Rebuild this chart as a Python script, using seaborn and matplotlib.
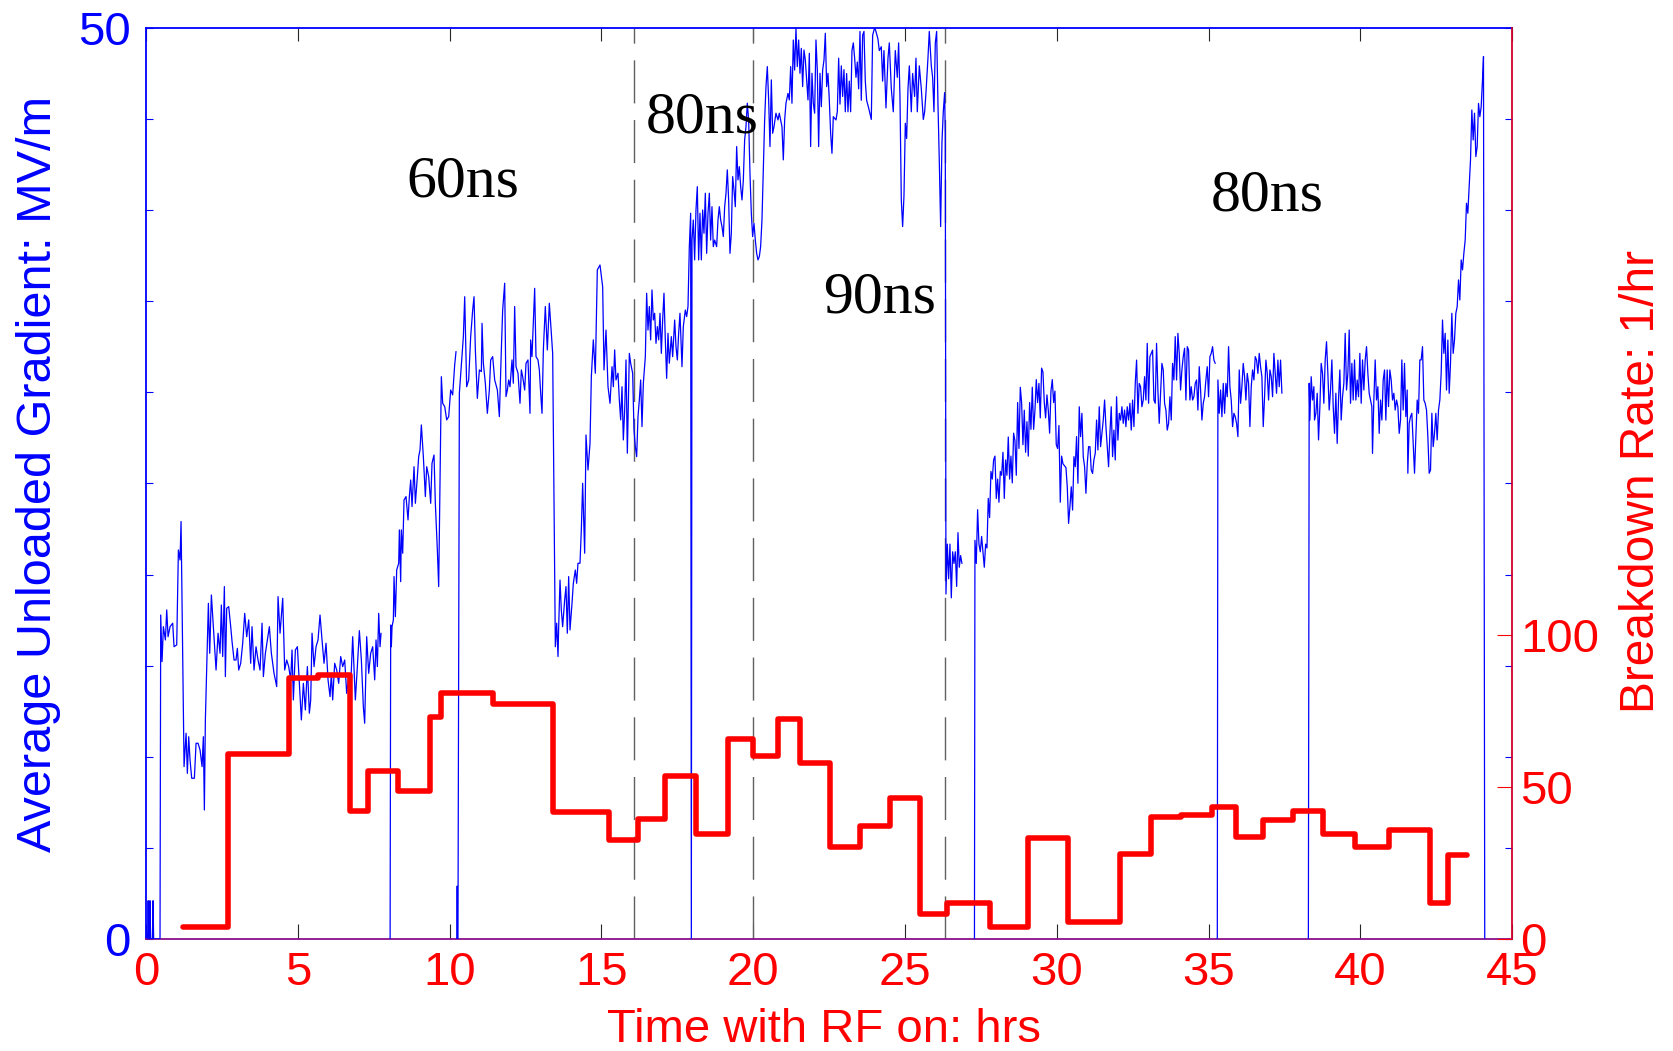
import matplotlib
matplotlib.use("Agg")
import matplotlib.pyplot as plt
import numpy as np
import pandas as pd
import seaborn as sns

sns.set_style("white")
plt.rcParams["font.family"] = ["Liberation Sans", "DejaVu Sans"]

# ---------------- data: average unloaded gradient (MV/m) vs time (hrs) ----------------
# each list is a continuous run of samples; gaps between lists are missing data
grad_run1 = [
    (0.05, 0), (0.07, 2.1), (0.09, 0), (0.11, 0), (0.13, 2.1), (0.15, 0), (0.21, 0), (0.23, 2.1), (0.25, 0), (0.46, 0),
    (0.483, 17.78), (0.527, 15.22), (0.571, 17.14), (0.637, 16.41), (0.681, 18.06), (0.725, 16.59), (0.791, 17.14),
    (0.878, 17.33), (0.922, 16.04), (1.010, 16.14), (1.065, 21.35), (1.120, 20.80), (1.153, 22.91), (1.208, 15.68),
    (1.252, 9.46), (1.318, 11.29), (1.361, 9.09), (1.405, 11.10), (1.449, 9.82), (1.504, 8.82), (1.592, 8.82),
    (1.647, 10.74), (1.713, 10.74), (1.779, 10.37), (1.845, 9.46), (1.888, 11.10), (1.921, 7.08), (1.954, 12.02),
    (2.009, 15.68), (2.053, 18.42), (2.097, 15.68), (2.152, 18.88), (2.218, 17.14), (2.306, 14.76), (2.372, 16.78),
    (2.437, 15.68), (2.481, 18.33), (2.525, 15.50), (2.580, 19.34), (2.613, 14.40), (2.657, 18.15), (2.723, 18.24),
    (2.789, 17.14), (2.833, 16.32), (2.899, 15.31), (2.964, 15.31), (3.008, 15.95), (3.052, 14.76), (3.118, 15.13),
    (3.184, 16.23), (3.250, 17.87), (3.316, 16.59), (3.382, 17.51), (3.447, 15.13), (3.491, 17.14), (3.557, 14.76),
    (3.623, 16.04), (3.689, 15.31), (3.755, 14.76), (3.821, 17.33), (3.865, 14.40), (3.931, 15.68), (3.996, 16.41),
    (4.062, 17.14), (4.128, 15.68), (4.216, 14.58), (4.304, 13.85), (4.348, 18.79), (4.414, 16.78), (4.502, 18.70),
    (4.567, 14.76), (4.633, 15.31), (4.699, 14.95), (4.765, 14.22), (4.809, 15.86), (4.853, 13.12), (4.919, 15.86),
    (4.985, 16.04), (5.050, 14.03), (5.116, 12.02), (5.182, 14.03), (5.248, 12.57), (5.314, 14.95), (5.380, 12.39),
    (5.424, 13.12), (5.468, 16.78), (5.534, 14.95), (5.600, 16.04), (5.665, 16.41), (5.731, 17.78), (5.797, 16.41),
    (5.863, 15.13), (5.929, 16.23), (5.995, 14.22), (6.061, 13.30), (6.104, 14.58), (6.148, 13.12), (6.214, 15.13),
    (6.280, 14.76), (6.346, 14.03), (6.412, 15.50), (6.478, 14.95), (6.544, 15.31), (6.609, 13.48), (6.675, 14.40),
    (6.741, 13.85), (6.807, 16.59), (6.895, 13.12), (6.961, 14.95), (7.027, 16.92), (7.093, 15.31), (7.158, 12.75),
    (7.202, 11.84), (7.268, 16.59), (7.334, 14.58), (7.400, 15.68), (7.466, 16.04), (7.532, 14.22), (7.576, 16.41),
    (7.620, 14.95), (7.664, 17.87), (7.708, 16.04), (7.741, 16.78),
]
grad_run2 = [
    (8.04, 0), (8.059, 17.23), (8.081, 16.04), (8.103, 17.14), (8.147, 17.51), (8.169, 19.89), (8.213, 17.69),
    (8.257, 20.25), (8.323, 20.62), (8.345, 22.45), (8.388, 19.61), (8.410, 22.45), (8.454, 21.17), (8.498, 24.09),
    (8.564, 24.28), (8.630, 23.00), (8.674, 24.28), (8.718, 25.19), (8.762, 23.73), (8.828, 25.92), (8.872, 23.91),
    (8.937, 25.37), (8.981, 26.47), (9.025, 26.84), (9.069, 28.21), (9.135, 26.47), (9.201, 24.28), (9.245, 25.92),
    (9.311, 25.37), (9.377, 23.91), (9.420, 26.11), (9.486, 26.56), (9.530, 23.91), (9.596, 21.35), (9.640, 19.34),
    (9.728, 30.86), (9.772, 29.40), (9.838, 29.22), (9.904, 28.49), (9.970, 28.67), (10.035, 30.13), (10.101, 29.86),
    (10.167, 31.50), (10.211, 32.24),
]
grad_run3 = [
    (10.245, 0), (10.25, 2.9), (10.255, 0), (10.275, 0), (10.321, 29.95), (10.387, 31.50), (10.453, 33.06),
    (10.497, 35.25), (10.562, 30.31), (10.628, 30.68), (10.694, 33.06), (10.760, 34.52), (10.804, 35.25),
    (10.848, 32.33), (10.914, 29.67), (10.980, 31.23), (11.046, 31.14), (11.068, 33.79), (11.111, 31.60),
    (11.177, 30.50), (11.243, 28.85), (11.309, 30.13), (11.353, 31.78), (11.419, 31.96), (11.485, 30.68),
    (11.573, 30.13), (11.639, 28.67), (11.704, 32.33), (11.748, 34.52), (11.814, 35.99), (11.858, 29.77),
    (11.902, 30.13), (11.946, 30.68), (11.990, 30.31), (12.056, 31.78), (12.099, 30.50), (12.143, 34.71),
    (12.187, 31.41), (12.253, 31.05), (12.319, 29.40), (12.363, 31.23), (12.407, 30.86), (12.473, 30.13),
    (12.517, 31.60), (12.582, 31.78), (12.648, 28.85), (12.670, 32.88), (12.714, 31.96), (12.758, 33.79),
    (12.802, 35.71), (12.846, 31.96), (12.912, 31.78), (12.956, 31.23), (13.000, 29.95), (13.044, 28.85),
    (13.088, 32.33), (13.153, 34.71), (13.219, 32.33), (13.285, 34.89), (13.351, 33.24), (13.395, 32.14),
    (13.483, 16.04), (13.527, 17.33), (13.571, 15.50), (13.593, 17.14), (13.637, 19.70), (13.680, 18.06),
    (13.724, 17.14), (13.790, 18.61), (13.834, 19.34), (13.878, 16.78), (13.922, 19.89), (13.966, 16.96),
    (14.032, 18.42), (14.076, 19.52), (14.141, 20.25), (14.185, 19.52), (14.229, 20.62), (14.295, 20.62),
    (14.339, 22.45), (14.383, 25.01), (14.449, 21.17), (14.493, 27.66), (14.559, 25.74), (14.625, 27.20),
    (14.669, 30.86), (14.734, 32.88), (14.800, 31.05), (14.866, 36.72), (14.954, 36.99), (15.042, 35.80),
    (15.086, 31.23), (15.152, 33.42),
    (15.218, 30.31), (15.284, 29.40), (15.350, 31.41), (15.394, 30.31), (15.437, 32.33), (15.481, 30.68),
    (15.547, 31.05), (15.591, 29.58), (15.635, 28.49), (15.679, 30.31), (15.723, 27.39), (15.767, 29.03),
    (15.811, 31.78), (15.855, 26.66), (15.921, 32.14), (15.964, 31.60), (16.030, 31.05), (16.074, 27.94),
    (16.118, 27.02), (16.162, 26.47), (16.206, 28.67), (16.250, 29.58), (16.294, 30.68), (16.338, 28.12),
    (16.382, 30.50), (16.448, 31.96), (16.491, 35.44), (16.535, 33.42), (16.579, 34.71), (16.623, 32.88),
    (16.667, 35.62), (16.711, 33.97), (16.755, 34.34), (16.799, 32.69), (16.843, 33.61), (16.887, 32.88),
    (16.931, 34.34), (16.975, 32.14), (17.018, 33.97), (17.062, 35.44), (17.106, 32.88), (17.150, 30.77),
    (17.194, 33.24), (17.238, 31.60), (17.304, 33.06), (17.348, 31.96), (17.414, 33.97), (17.458, 32.51),
    (17.502, 31.78), (17.545, 33.24), (17.589, 34.34), (17.655, 31.41), (17.699, 33.61), (17.765, 34.52),
    (17.809, 34.16), (17.853, 34.71), (17.897, 38.00), (17.941, 39.83), (17.963, 0), (17.985, 38.36),
    (18.028, 39.46), (18.072, 37.27), (18.116, 40.01), (18.160, 41.29), (18.204, 37.27), (18.248, 39.83),
    (18.292, 37.27), (18.336, 40.01), (18.380, 38.73), (18.424, 40.93), (18.468, 37.63), (18.512, 39.83),
    (18.556, 40.93), (18.599, 38.36), (18.643, 40.19), (18.687, 38.00), (18.731, 38.36), (18.797, 38.00),
    (18.841, 39.46), (18.885, 40.19), (18.929, 39.46), (18.973, 39.10), (19.017, 38.55), (19.061, 40.19),
    (19.105, 40.93), (19.148, 42.21), (19.192, 40.56), (19.236, 37.63), (19.280, 38.73), (19.324, 41.84),
    (19.368, 41.11), (19.412, 40.19), (19.456, 43.49), (19.500, 41.66), (19.544, 42.39), (19.588, 41.29),
    (19.632, 40.56), (19.676, 41.66), (19.719, 43.85), (19.763, 44.58), (19.807, 45.87), (19.851, 44.95),
    (19.895, 42.02), (19.939, 39.83), (19.983, 38.55), (20.027, 39.28), (20.071, 38.36), (20.115, 37.63),
    (20.159, 37.27), (20.203, 37.45), (20.246, 38.00), (20.290, 39.46), (20.334, 42.21), (20.378, 44.95),
    (20.422, 46.78), (20.466, 47.88), (20.510, 46.05), (20.554, 43.49), (20.598, 47.15), (20.642, 44.22),
    (20.686, 44.58), (20.751, 45.32), (20.817, 44.95), (20.861, 45.32), (20.905, 44.95), (20.949, 44.58),
    (20.993, 42.76), (21.037, 44.95), (21.081, 45.87), (21.147, 46.41), (21.191, 46.05), (21.235, 47.88),
    (21.278, 45.87), (21.322, 49.34), (21.366, 47.69), (21.410, 49.98), (21.454, 47.88), (21.498, 49.34),
    (21.542, 47.51), (21.586, 48.88), (21.630, 46.78), (21.674, 48.79), (21.718, 48.24), (21.762, 47.15),
    (21.806, 46.05), (21.850, 48.61), (21.893, 43.49), (21.937, 47.51), (21.981, 45.87), (22.025, 45.32),
    (22.069, 49.34), (22.113, 47.69), (22.157, 43.49), (22.201, 47.51), (22.245, 45.68), (22.289, 47.69),
    (22.333, 48.24), (22.377, 49.71), (22.421, 46.78), (22.464, 47.51), (22.508, 46.05), (22.552, 44.22),
    (22.596, 43.12), (22.640, 45.13), (22.728, 44.95),
    (22.772, 45.40), (22.816, 48.34), (22.860, 45.82), (22.904, 47.92), (22.948, 46.24), (22.991, 47.71),
    (23.035, 45.40), (23.079, 47.50), (23.123, 45.40), (23.167, 47.08), (23.211, 45.40), (23.255, 48.76),
    (23.299, 49.18), (23.343, 48.34), (23.387, 47.29), (23.431, 48.13), (23.475, 46.66), (23.519, 49.81),
    (23.562, 46.03), (23.606, 49.60), (23.650, 49.81), (23.694, 47.08), (23.738, 46.03), (23.804, 45.61),
    (23.892, 44.98), (23.936, 49.60), (24.002, 50.02), (24.045, 49.81), (24.111, 49.39), (24.155, 48.76),
    (24.221, 48.97), (24.265, 47.08), (24.309, 48.76), (24.375, 45.61), (24.441, 48.34), (24.485, 49.18),
    (24.551, 46.66), (24.616, 45.40), (24.682, 48.76), (24.748, 47.29), (24.792, 49.18), (24.836, 46.24),
    (24.880, 40.57), (24.924, 39.10), (24.968, 40.78), (25.012, 44.77), (25.056, 43.93), (25.100, 46.66),
    (25.144, 47.92), (25.209, 45.40), (25.253, 47.50), (25.319, 46.24), (25.363, 48.34), (25.407, 45.40),
    (25.473, 47.92), (25.539, 46.66), (25.605, 44.98), (25.649, 45.40), (25.693, 46.45), (25.758, 48.34),
    (25.802, 49.81), (25.868, 47.92), (25.912, 47.29), (25.956, 45.40), (26.000, 49.18), (26.044, 49.81),
    (26.088, 45.82), (26.132, 42.67), (26.176, 39.10), (26.219, 43.72), (26.263, 45.40), (26.307, 46.45),
    (26.329, 44.14), (26.351, 18.93), (26.395, 21.67), (26.439, 19.77), (26.483, 21.67), (26.527, 18.72),
    (26.571, 21.25), (26.615, 20.61), (26.659, 21.25), (26.703, 19.35), (26.747, 22.30), (26.790, 20.40),
    (26.834, 21.04), (26.878, 20.61),
]
grad_run4 = [
    (27.29, 0), (27.306, 21.88), (27.350, 20.61), (27.394, 23.56), (27.438, 21.67), (27.482, 21.25), (27.526, 22.09),
    (27.570, 21.25), (27.614, 20.40), (27.658, 21.67), (27.702, 21.46), (27.745, 24.18), (27.789, 23.13),
    (27.833, 25.66), (27.877, 25.24), (27.921, 26.29), (27.965, 26.50), (28.009, 24.18), (28.053, 25.24),
    (28.097, 23.97), (28.141, 25.66), (28.185, 25.45), (28.229, 26.71), (28.273, 24.18), (28.316, 26.29),
    (28.360, 25.45), (28.404, 27.55), (28.448, 25.24), (28.492, 26.50), (28.536, 25.03), (28.580, 27.76),
    (28.624, 27.34), (28.668, 25.45), (28.712, 29.44), (28.756, 26.92), (28.800, 30.28), (28.843, 29.44),
    (28.887, 27.13), (28.931, 29.02), (28.975, 26.71), (29.019, 28.39), (29.063, 26.50), (29.107, 29.44),
    (29.151, 27.97), (29.195, 30.28), (29.239, 27.97), (29.283, 29.02), (29.327, 30.70), (29.370, 29.44),
    (29.414, 30.49), (29.458, 28.60), (29.502, 31.33), (29.546, 31.12), (29.590, 29.44), (29.634, 28.60),
    (29.678, 29.86), (29.722, 29.02), (29.766, 27.76), (29.810, 30.07), (29.854, 30.70), (29.898, 29.44),
    (29.941, 30.07), (29.985, 27.13), (30.029, 26.92), (30.073, 28.18), (30.117, 23.97), (30.161, 26.50),
    (30.205, 26.08), (30.304, 25.87),
    (30.347, 24.82), (30.391, 22.81), (30.435, 23.73), (30.479, 24.82), (30.523, 23.54), (30.567, 26.47),
    (30.610, 25.92), (30.654, 27.57), (30.698, 25.01), (30.742, 29.21), (30.786, 27.57), (30.830, 28.85),
    (30.874, 26.47), (30.918, 25.92), (30.962, 24.46), (31.006, 26.10), (31.050, 27.02), (31.094, 27.02),
    (31.137, 25.74), (31.181, 25.55), (31.225, 26.29), (31.269, 26.65), (31.313, 28.48), (31.357, 26.84),
    (31.401, 29.21), (31.445, 27.02), (31.489, 27.75), (31.533, 28.48), (31.577, 29.58), (31.621, 28.12),
    (31.664, 27.02), (31.708, 25.92), (31.752, 27.75), (31.796, 29.21), (31.840, 26.47), (31.884, 27.93),
    (31.928, 26.29), (31.972, 29.76), (32.016, 27.38), (32.060, 28.85), (32.104, 28.48), (32.148, 29.21),
    (32.191, 28.30), (32.235, 29.03), (32.279, 28.12), (32.323, 29.21), (32.367, 28.48), (32.411, 29.40),
    (32.455, 27.93), (32.499, 29.58), (32.543, 28.12), (32.587, 30.49), (32.631, 31.77), (32.675, 28.85),
    (32.718, 30.49), (32.762, 30.31), (32.806, 29.21), (32.850, 29.58), (32.894, 30.86), (32.938, 29.58),
    (32.982, 32.69), (33.026, 29.40), (33.070, 31.96), (33.114, 32.14), (33.158, 32.32), (33.202, 29.58),
    (33.246, 29.40), (33.289, 32.69), (33.333, 30.13), (33.377, 28.30), (33.421, 29.95), (33.465, 31.59),
    (33.509, 31.23), (33.553, 29.40), (33.597, 29.03), (33.641, 27.93), (33.685, 28.30), (33.729, 29.76),
    (33.773, 28.48), (33.816, 31.59), (33.860, 30.68), (33.904, 33.06), (33.948, 30.68), (33.992, 33.24),
    (34.036, 32.14), (34.080, 30.13), (34.124, 31.23), (34.168, 31.96), (34.212, 32.42), (34.256, 29.58),
    (34.300, 32.51), (34.343, 32.32), (34.387, 29.58), (34.431, 30.31), (34.475, 29.58), (34.519, 29.76),
    (34.563, 30.49), (34.607, 30.68), (34.651, 29.03), (34.695, 31.41), (34.739, 30.13), (34.783, 28.48),
    (34.827, 29.40), (34.870, 29.76), (34.914, 30.68), (34.958, 31.41), (35.002, 29.76), (35.046, 31.96),
    (35.090, 32.14), (35.134, 32.51), (35.178, 31.77), (35.222, 31.59),
]
grad_run5 = [
    (35.29, 0), (35.310, 30.68), (35.354, 28.85), (35.398, 30.13), (35.442, 28.66), (35.486, 30.49), (35.530, 28.85),
    (35.573, 30.49), (35.617, 29.76), (35.661, 32.51), (35.705, 30.31), (35.749, 29.58), (35.793, 28.12),
    (35.837, 28.85), (35.881, 28.66), (35.925, 28.30), (35.969, 27.57), (36.013, 31.23), (36.057, 29.40),
    (36.100, 30.31), (36.144, 31.59), (36.188, 30.86), (36.232, 29.58), (36.276, 31.04), (36.320, 30.49),
    (36.364, 28.12), (36.408, 30.31), (36.452, 31.23), (36.496, 30.68), (36.540, 31.96), (36.584, 31.77),
    (36.627, 31.04), (36.671, 32.14), (36.715, 31.41), (36.759, 30.86), (36.803, 28.12), (36.847, 29.76),
    (36.891, 31.77), (36.935, 31.04), (36.979, 29.58), (37.023, 31.23), (37.067, 30.86), (37.111, 29.76),
    (37.154, 32.14), (37.198, 31.04), (37.242, 29.95), (37.286, 31.77), (37.330, 30.31), (37.374, 31.77),
    (37.418, 29.95),
]
grad_run6 = [
    (38.29, 0), (38.317, 30.50), (38.339, 28.48), (38.383, 30.86), (38.427, 29.58), (38.471, 30.31), (38.493, 28.48),
    (38.537, 28.85), (38.581, 29.95), (38.625, 27.39), (38.669, 29.22), (38.712, 31.59), (38.756, 31.05),
    (38.800, 29.40), (38.844, 31.78), (38.888, 32.78), (38.932, 31.05), (38.976, 29.03), (39.020, 30.13),
    (39.064, 31.78), (39.108, 29.22), (39.152, 27.75), (39.196, 29.95), (39.239, 27.20), (39.283, 29.58),
    (39.327, 31.23), (39.371, 28.48), (39.415, 29.76), (39.459, 30.50), (39.503, 33.24), (39.547, 30.13),
    (39.591, 31.05), (39.635, 33.42), (39.679, 29.40), (39.723, 31.59), (39.766, 29.58), (39.810, 31.78),
    (39.854, 29.58), (39.898, 30.68), (39.942, 29.76), (39.986, 32.14), (40.030, 29.40), (40.074, 31.78),
    (40.118, 30.13), (40.162, 31.78), (40.206, 32.51), (40.250, 31.05), (40.293, 29.95), (40.337, 29.58),
    (40.381, 29.22), (40.403, 26.65), (40.447, 29.58), (40.491, 31.78), (40.535, 29.58), (40.579, 30.31),
    (40.623, 27.75), (40.667, 29.58), (40.711, 28.48), (40.755, 30.68), (40.799, 31.23), (40.842, 28.48),
    (40.886, 31.23), (40.930, 29.22), (40.974, 31.23), (41.018, 30.68), (41.062, 29.58), (41.106, 29.95),
    (41.150, 29.03), (41.194, 29.58), (41.238, 29.22), (41.282, 27.75), (41.326, 28.48), (41.369, 31.78),
    (41.413, 29.03), (41.457, 31.59), (41.501, 28.67), (41.545, 30.13), (41.567, 25.56), (41.611, 28.30),
    (41.655, 28.67), (41.699, 28.85), (41.743, 27.20), (41.787, 25.56), (41.831, 27.57), (41.875, 29.58),
    (41.918, 28.85), (41.962, 31.78), (42.006, 31.78), (42.050, 32.51), (42.094, 29.58), (42.138, 29.40),
    (42.182, 29.03), (42.226, 27.57), (42.270, 25.56), (42.314, 25.74), (42.358, 28.85), (42.402, 27.02),
    (42.445, 27.75), (42.489, 28.85), (42.533, 27.39), (42.577, 29.03), (42.621, 29.58), (42.665, 31.05),
    (42.709, 33.97), (42.753, 32.14), (42.797, 33.24), (42.841, 30.13), (42.885, 32.87), (42.929, 29.95),
    (42.972, 31.59), (43.016, 34.34), (43.060, 32.14), (43.104, 32.87), (43.148, 34.34), (43.192, 34.70),
    (43.236, 36.17), (43.280, 35.07), (43.324, 37.27), (43.368, 36.72), (43.412, 37.63), (43.456, 38.36),
    (43.499, 40.38), (43.543, 39.83), (43.587, 41.29), (43.631, 42.75), (43.675, 45.50), (43.719, 43.85),
    (43.763, 45.32), (43.807, 42.94), (43.851, 43.49), (43.895, 45.86), (43.939, 45.13), (43.983, 45.68),
    (44.026, 47.15), (44.059, 48.43), (44.10, 0),
]
grad_runs = [grad_run1, grad_run2, grad_run3, grad_run4, grad_run5, grad_run6]

# ---------------- data: breakdown rate (1/hr), piecewise constant ----------------
rate_edges = [1.23, 2.71, 4.71, 5.66, 6.72, 7.31, 8.30, 9.35, 9.70, 11.43, 13.40, 15.26, 16.21, 17.09,
              18.11, 19.16, 20.01, 20.82, 21.55, 22.54, 23.52, 24.51, 25.49, 26.37, 27.81, 29.04, 30.38,
              32.07, 33.09, 34.11, 35.13, 35.90, 36.81, 37.80, 38.78, 39.84, 40.96, 42.30, 42.90, 43.53]
rate_levels = [4, 61, 86, 87, 42, 55.4, 48.8, 73, 81, 77.5, 41.8, 32.6, 39.6, 53.7, 34.7, 66, 60.4, 72.3,
               57.9, 30.2, 37.2, 46.3, 8.1, 11.9, 3.9, 33.3, 5.6, 28, 40, 40.7, 43.5, 33.7, 39.3, 42.1,
               34.7, 30.2, 35.8, 11.8, 27.5]

# pulse-length change times and labels
pulse_change_t = [16.07, 20.0, 26.33]
pulse_labels = ["60ns", "80ns", "90ns", "80ns"]

x_ticks = list(range(0, 46, 5))
left_ticks = list(range(0, 51, 5))
left_ticklabels = ["0"] + [""] * 9 + ["50"]
right_ticks = [0, 50, 100]

# ---------------- figure ----------------
BLUE = "#0000ff"
RED = "#ff0000"

fig = plt.figure(figsize=(16.73, 10.51), dpi=100)
ax = fig.add_axes([0.0873, 0.1066, 0.8165, 0.8668])
ax2 = ax.twinx()

rows = []
for i, run in enumerate(grad_runs):
    for t, g in run:
        rows.append((i, t, g))
df_g = pd.DataFrame(rows, columns=["run", "t", "g"])
sns.lineplot(data=df_g, x="t", y="g", units="run", estimator=None, sort=False,
             color=BLUE, lw=0.9, ax=ax, legend=False, zorder=3)

df_r = pd.DataFrame({"t": rate_edges, "r": rate_levels + [rate_levels[-1]]})
sns.lineplot(data=df_r, x="t", y="r", estimator=None, sort=False, color=RED, lw=4.0,
             drawstyle="steps-post", ax=ax2, legend=False)

for tc in pulse_change_t:
    ax.axvline(tc, color="#606060", lw=1.0, dashes=(31, 12), zorder=1)

serif = ["Liberation Serif", "DejaVu Serif"]
label_pos = [(8.58, 40.76), (16.47, 44.25), (22.32, 34.37), (35.08, 40.0)]
for (tx, ty), s in zip(label_pos, pulse_labels):
    ax.text(tx, ty, s, family=serif, fontsize=43, color="black", ha="left", va="baseline", zorder=4)

ax.set_xlim(0, 45)
ax.set_ylim(0, 50)
ax2.set_ylim(0, 300)
ax2.set_xlim(0, 45)

ax.set_xticks(x_ticks)
ax.set_xticklabels([str(v) for v in x_ticks])
ax.set_yticks(left_ticks)
ax.set_yticklabels(left_ticklabels)
ax2.set_yticks(right_ticks)
ax2.set_yticklabels([str(v) for v in right_ticks])

ax.tick_params(axis="x", direction="in", length=11, width=0.8, top=True, bottom=True,
               labelsize=34, labelcolor=RED, pad=9)
for tk in ax.xaxis.get_major_ticks():
    tk.tick1line.set_color(RED)
    tk.tick2line.set_color(BLUE)
    tk.tick2line.set_markersize(9)
ax.tick_params(axis="y", direction="in", length=5, width=0.8, left=True, right=True,
               colors=BLUE, labelsize=34, pad=11)
ax2.tick_params(axis="y", direction="in", length=11, width=0.8, left=False, right=True,
                colors=RED, labelsize=34, pad=6)

for side in ["left", "top"]:
    ax.spines[side].set_color(BLUE)
    ax.spines[side].set_linewidth(1.3)
ax.spines["bottom"].set_color("#8b0f8b")
ax.spines["bottom"].set_linewidth(1.3)
ax.spines["right"].set_visible(False)
for side in ["left", "top", "bottom"]:
    ax2.spines[side].set_visible(False)
ax2.spines["right"].set_color("#d0002a")
ax2.spines["right"].set_linewidth(1.3)

ax.set_xlabel("Time with RF on: hrs", color=RED, fontsize=34, va="center")
ax.xaxis.set_label_coords(0.496, -0.100)
ax.set_ylabel("Average Unloaded Gradient: MV/m", color=BLUE, fontsize=35, va="center")
ax.yaxis.set_label_coords(-0.079, 0.51)
ax2.set_ylabel("Breakdown Rate: 1/hr", color=RED, fontsize=34.5, va="center", rotation=90)
ax2.yaxis.set_label_coords(1.0944, 0.502)

fig.savefig("out.png", dpi=100)
